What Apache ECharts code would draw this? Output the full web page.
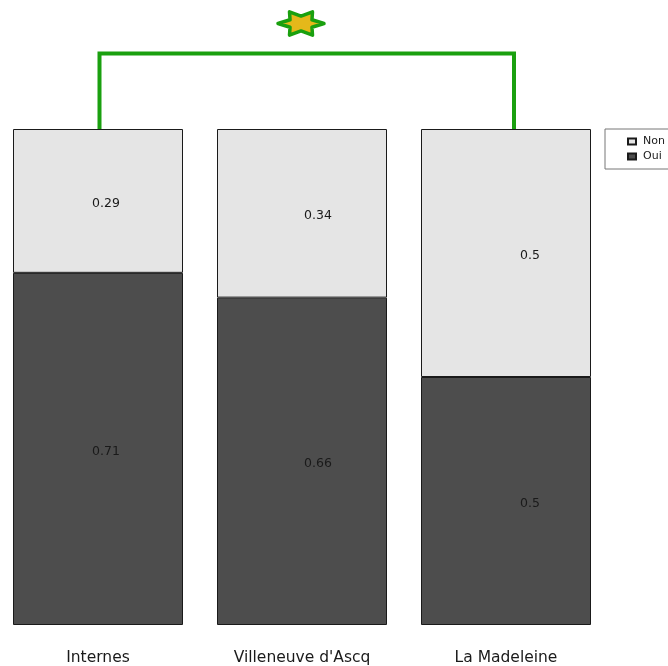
<!DOCTYPE html>
<html>
<head>
<meta charset="utf-8">
<script src="https://cdn.jsdelivr.net/npm/echarts@6/dist/echarts.min.js"></script>
<style>
  html, body { margin: 0; padding: 0; background: #fff; overflow: hidden; }
  #chart { width: 672px; height: 666px; margin-left: -4px; }
</style>
</head>
<body>
<div id="chart"></div>
<script>
// Share of answers per site
const sites = ['Internes', "Villeneuve d'Ascq", 'La Madeleine'];
const ouiShare = [0.71, 0.66, 0.5];
const nonShare = [0.29, 0.34, 0.5];
const labelShift = [8, 16, 24];

const FONT = 'DejaVu Sans';
const chart = echarts.init(document.getElementById('chart'));

function segment(values) {
  return values.map((v, i) => ({
    value: v,
    label: { offset: [labelShift[i], 2.5] }
  }));
}

const labelStyle = {
  show: true,
  position: 'inside',
  color: '#1a1a1a',
  fontFamily: FONT,
  fontSize: 12.5,
  formatter: p => String(p.value)
};

chart.setOption({
  animation: false,
  grid: { left: 0, right: 60, top: 129, bottom: 41 },
  legend: {
    orient: 'vertical',
    left: 609,
    top: 129,
    data: ['Non', 'Oui'],
    icon: 'rect',
    padding: [7, 40, 7, 22],
    itemGap: 4,
    itemWidth: 8,
    itemHeight: 6,
    borderColor: '#777',
    borderWidth: 1,
    textStyle: { fontFamily: FONT, fontSize: 11, color: '#1a1a1a', padding: [0, 0, 0, 2] }
  },
  xAxis: {
    type: 'category',
    data: sites,
    axisLine: { show: false },
    axisTick: { show: false },
    axisLabel: { margin: 25, fontFamily: FONT, fontSize: 15.5, color: '#1a1a1a' }
  },
  yAxis: {
    type: 'value',
    min: 0,
    max: 1,
    show: false,
    splitLine: { show: false }
  },
  series: [
    {
      name: 'Oui',
      type: 'bar',
      stack: 'rep',
      barWidth: 170,
      data: segment(ouiShare),
      itemStyle: { color: '#4d4d4d', borderColor: '#1a1a1a', borderWidth: 1 },
      label: labelStyle
    },
    {
      name: 'Non',
      type: 'bar',
      stack: 'rep',
      barWidth: 170,
      data: segment(nonShare),
      itemStyle: { color: '#e5e5e5', borderColor: '#1a1a1a', borderWidth: 1 },
      label: labelStyle
    }
  ]
});

// Significance bracket between the first and last site, with a star on top
const pLeft = chart.convertToPixel({ seriesIndex: 0 }, [0, 1]);
const pRight = chart.convertToPixel({ seriesIndex: 0 }, [2, 1]);
const pTop = chart.convertToPixel({ seriesIndex: 0 }, [0, 1.152]);
const xL = pLeft[0] + 1.5;
const xR = pRight[0] + 8;
const yBase = pLeft[1];
const yTop = pTop[1];

const cx = (pLeft[0] + pRight[0]) / 2 - 1, cy = 23.5, rx = 23, ry = 13.5, inner = 0.55;
const starPts = [];
for (let k = 0; k < 12; k++) {
  const a = Math.PI * k / 6;
  const r = k % 2 === 0 ? 1 : inner;
  starPts.push([cx + Math.cos(a) * rx * r, cy - Math.sin(a) * ry * r]);
}

chart.setOption({
  graphic: [
    {
      type: 'polyline',
      shape: { points: [[xL, yBase], [xL, yTop], [xR, yTop], [xR, yBase]] },
      style: { stroke: '#1aa00f', lineWidth: 4, fill: null, lineJoin: 'miter' },
      z: 10
    },
    {
      type: 'polygon',
      shape: { points: starPts },
      style: { fill: '#e5b81a', stroke: '#1aa00f', lineWidth: 3.5, lineJoin: 'round' },
      z: 11
    }
  ]
});
</script>
</body>
</html>
